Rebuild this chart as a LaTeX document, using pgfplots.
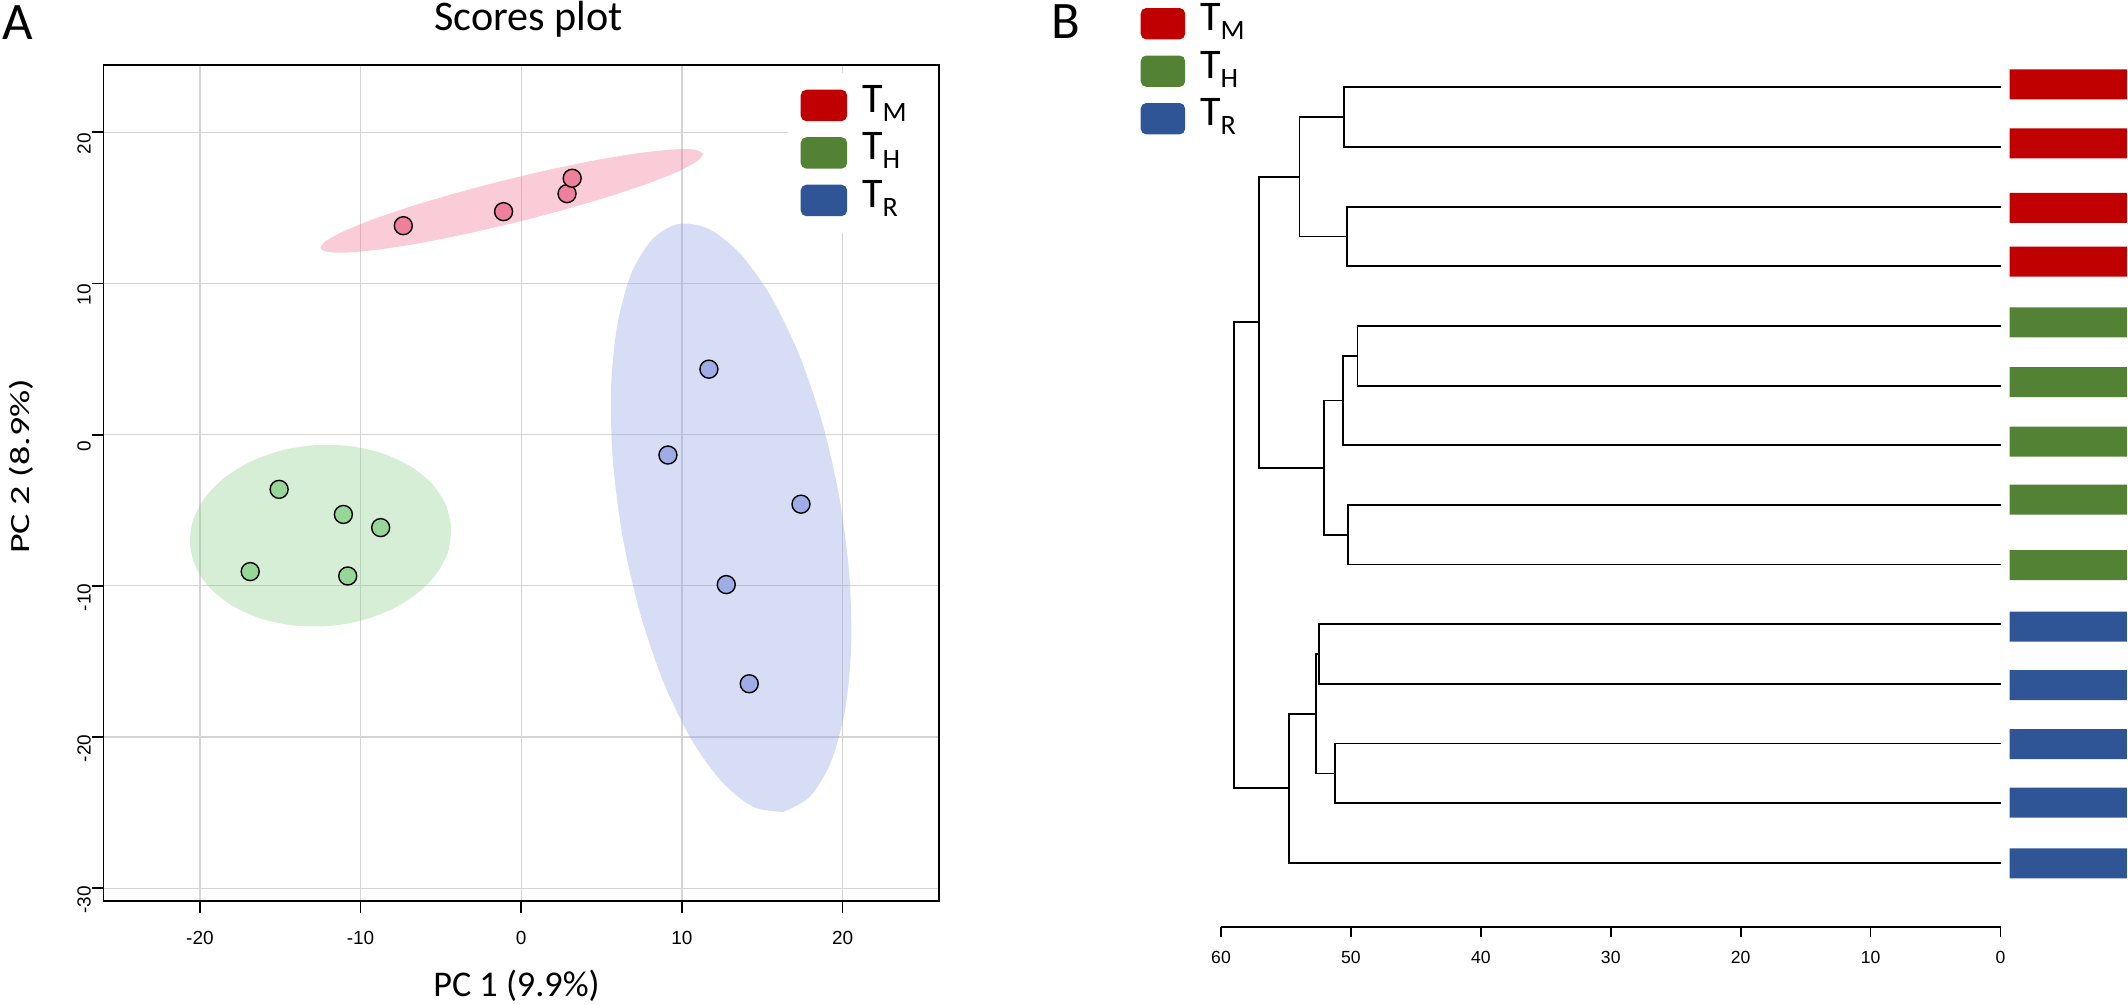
\documentclass[border=0pt]{standalone}
\usepackage{fontspec}
\setmainfont{Carlito}
\newfontfamily\arialfont{Liberation Sans}
\usepackage{pgfplots}
\pgfplotsset{compat=1.18}

\definecolor{tmred}{HTML}{C00000}
\definecolor{thgreen}{HTML}{548235}
\definecolor{trblue}{HTML}{2F5597}
\definecolor{ptred}{RGB}{238,128,155}
\definecolor{ptgreen}{RGB}{150,214,150}
\definecolor{ptblue}{RGB}{160,172,230}
\definecolor{elred}{RGB}{240,110,140}
\definecolor{elgreen}{RGB}{138,206,138}
\definecolor{elblue}{RGB}{141,158,224}
\definecolor{gridgray}{RGB}{212,212,212}

\newcommand\tickfontA{\arialfont\fontsize{5.4}{6}\selectfont}
\newcommand\tickfontB{\arialfont\fontsize{5.0}{6}\selectfont}
\newcommand\sub[1]{\raisebox{-0.9mm}{\fontsize{8}{8}\selectfont #1}}
\newcommand\entry[1]{\makebox[6.3mm][l]{\rule[-1.5mm]{0pt}{4.4mm}T\sub{#1}}}

% rounded bar for the dendrogram leaves
\pgfdeclareplotmark{rbar}{%
  \pgfsetcornersarced{\pgfpoint{0.5mm}{0.5mm}}%
  \pgfpathmoveto{\pgfpoint{-5.87mm}{0mm}}%
  \pgfpathlineto{\pgfpoint{-5.87mm}{1.5mm}}%
  \pgfpathlineto{\pgfpoint{5.87mm}{1.5mm}}%
  \pgfpathlineto{\pgfpoint{5.87mm}{-1.5mm}}%
  \pgfpathlineto{\pgfpoint{-5.87mm}{-1.5mm}}%
  \pgfpathclose
  \pgfusepathqfill}

\pgfplotsset{dend/.style={black, line width=0.5pt, mark=none, forget plot}}

\begin{document}
\begin{tikzpicture}
\useasboundingbox (0,0) rectangle (212.8mm,100.4mm);

\node[anchor=base west, inner sep=0pt, font=\fontsize{15}{15}\selectfont] at (0.2mm,96.4mm) {A};
\node[anchor=base west, inner sep=0pt, font=\fontsize{15}{15}\selectfont] at (105.1mm,96.57mm) {B};

% ---------------- A: scores plot ----------------
\begin{axis}[
  at={(10.35mm,10.3mm)}, anchor=south west,
  scale only axis, width=83.55mm, height=83.6mm,
  xmin=-26, xmax=26, ymin=-30.85, ymax=24.45,
  xtick={-20,-10,0,10,20}, xticklabels={-20,-10,0,10,20},
  ytick={-30,-20,-10,0,10,20}, yticklabels={-30,-20,-10,0,10,20},
  tick pos=left, tick align=outside, major tick length=1.2mm,
  grid=major, major grid style={gridgray, line width=0.35pt},
  axis line style={black, line width=0.5pt},
  every tick/.style={black, line width=0.5pt},
  ticklabel style={font=\tickfontA, inner sep=0pt},
  xticklabel style={anchor=north, yshift=-1.8mm},
  yticklabel style={rotate=90, anchor=south, xshift=-1.15mm},
  every axis title shift=0pt,
  title={Scores plot},
  title style={font=\fontsize{12}{14}\selectfont, at={(axis description cs:0.5087,1.041)}, anchor=base, inner sep=0pt},
  xlabel={PC 1 (9.9\%)},
  xlabel style={font=\fontsize{10.3}{12}\selectfont, at={(axis description cs:0.4943,-0.1148)}, anchor=base, inner sep=0pt},
  ylabel={\scalebox{1.37}[1]{PC 2 (8.9\%)}},
  ylabel style={font=\fontsize{7.9}{9}\selectfont, at={(axis description cs:-0.0888,0.52)}, anchor=base, inner sep=0pt},
  legend cell align=left,
  legend style={at={(0.8181,0.9916)}, anchor=north west, draw=none, fill=white,
    inner xsep=1.3mm, inner ysep=1.07mm, row sep=0.35mm,
    nodes={inner sep=0pt, text depth=}, font=\fontsize{12}{12}\selectfont},
]
% confidence ellipses
\addplot[fill=elred, fill opacity=0.35, draw=none, smooth, forget plot] coordinates {
  (11.32,18.59) (10.99,18.12) (9.88,17.47) (8.06,16.68) (5.65,15.81) (2.81,14.92)
  (-0.26,14.06) (-3.35,13.30) (-6.25,12.68) (-8.77,12.26) (-10.73,12.05) (-11.99,12.08)
  (-12.49,12.33) (-12.16,12.80) (-11.05,13.45) (-9.23,14.24) (-6.82,15.11) (-3.98,16.00)
  (-0.91,16.86) (2.18,17.62) (5.08,18.24) (7.60,18.66) (9.56,18.87) (10.82,18.85) (11.32,18.59)};
\addplot[fill=elgreen, fill opacity=0.35, draw=none, smooth, forget plot] coordinates {
  (-4.35,-6.08) (-4.52,-7.65) (-5.24,-9.15) (-6.45,-10.49) (-8.07,-11.56) (-10.00,-12.31)
  (-12.09,-12.67) (-14.21,-12.62) (-16.21,-12.17) (-17.95,-11.34) (-19.33,-10.20) (-20.23,-8.82)
  (-20.61,-7.29) (-20.44,-5.72) (-19.72,-4.22) (-18.51,-2.88) (-16.89,-1.81) (-14.97,-1.06)
  (-12.87,-0.70) (-10.76,-0.75) (-8.75,-1.20) (-7.01,-2.03) (-5.63,-3.17) (-4.73,-4.55) (-4.35,-6.08)};
\addplot[fill=elblue, fill opacity=0.35, draw=none, smooth, forget plot] coordinates {
  (16.31,-24.96) (17.94,-23.97) (19.25,-21.71) (20.13,-18.35) (20.53,-14.13) (20.42,-9.31)
  (19.81,-4.23) (18.74,0.76) (17.28,5.32) (15.53,9.15) (13.62,11.97) (11.67,13.61)
  (9.81,13.94) (8.18,12.95) (6.87,10.70) (5.99,7.34) (5.59,3.12) (5.70,-1.70)
  (6.31,-6.78) (7.39,-11.77) (8.84,-16.34) (10.59,-20.16) (12.50,-22.98) (14.45,-24.63) (16.31,-24.96)};
% scores
\addplot[only marks, mark=*, mark size=0.9mm, mark options={fill=ptred, draw=black, line width=0.4pt}, forget plot]
  coordinates {(-7.34,13.82) (-1.10,14.75) (2.85,15.94) (3.17,16.96)};
\addplot[only marks, mark=*, mark size=0.9mm, mark options={fill=ptgreen, draw=black, line width=0.4pt}, forget plot]
  coordinates {(-15.07,-3.62) (-11.07,-5.28) (-8.75,-6.15) (-16.87,-9.06) (-10.80,-9.35)};
\addplot[only marks, mark=*, mark size=0.9mm, mark options={fill=ptblue, draw=black, line width=0.4pt}, forget plot]
  coordinates {(11.68,4.33) (9.13,-1.35) (17.41,-4.60) (12.76,-9.92) (14.19,-16.48)};
\addlegendimage{legend image code/.code={\fill[tmred, rounded corners=0.5mm] (0mm,-1.5mm) rectangle (4.5mm,1.5mm); \path (6mm,0mm);}}
\addlegendentry{\entry{M}}
\addlegendimage{legend image code/.code={\fill[thgreen, rounded corners=0.5mm] (0mm,-1.5mm) rectangle (4.5mm,1.5mm); \path (6mm,0mm);}}
\addlegendentry{\entry{H}}
\addlegendimage{legend image code/.code={\fill[trblue, rounded corners=0.5mm] (0mm,-1.5mm) rectangle (4.5mm,1.5mm); \path (6mm,0mm);}}
\addlegendentry{\entry{R}}
\end{axis}

% ---------------- B: dendrogram ----------------
\begin{axis}[
  at={(122.1mm,7.73mm)}, anchor=south west,
  scale only axis, width=77.95mm, height=86.2mm,
  xmin=0, xmax=60, x dir=reverse, ymin=-0.07, ymax=14.38,
  axis x line=bottom, axis y line=none,
  axis line style={-, black, line width=0.5pt},
  xtick={0,10,20,30,40,50,60}, xticklabels={0,10,20,30,40,50,60},
  ytick=\empty,
  tick align=outside, major tick length=1mm,
  every tick/.style={black, line width=0.5pt},
  xticklabel style={font=\tickfontB, inner sep=0pt, anchor=north, yshift=-1.4mm},
  clip=false,
  legend cell align=left,
  legend style={at={(-0.1039,1.0739)}, anchor=north west, draw=none, fill=none,
    inner xsep=0pt, inner ysep=0pt, row sep=0.35mm,
    nodes={inner sep=0pt, text depth=}, font=\fontsize{12}{12}\selectfont},
]
% red cluster
\addplot[dend] coordinates {(0,14) (50.55,14) (50.55,13) (0,13)};
\addplot[dend] coordinates {(0,12) (50.3,12) (50.3,11) (0,11)};
\addplot[dend] coordinates {(50.55,13.5) (53.95,13.5) (53.95,11.5) (50.3,11.5)};
% green cluster
\addplot[dend] coordinates {(0,10) (49.5,10) (49.5,9) (0,9)};
\addplot[dend] coordinates {(49.5,9.5) (50.6,9.5) (50.6,8) (0,8)};
\addplot[dend] coordinates {(0,7) (50.22,7) (50.22,6) (0,6)};
\addplot[dend] coordinates {(50.6,8.75) (52.1,8.75) (52.1,6.5) (50.22,6.5)};
\addplot[dend] coordinates {(53.95,12.5) (57.1,12.5) (57.1,7.625) (52.1,7.625)};
% blue cluster
\addplot[dend] coordinates {(0,5) (52.45,5) (52.45,4) (0,4)};
\addplot[dend] coordinates {(0,3) (51.2,3) (51.2,2) (0,2)};
\addplot[dend] coordinates {(52.45,4.5) (52.7,4.5) (52.7,2.5) (51.2,2.5)};
\addplot[dend] coordinates {(52.7,3.5) (54.77,3.5) (54.77,1) (0,1)};
% root
\addplot[dend] coordinates {(57.1,10.0625) (59.0,10.0625) (59.0,2.25) (54.77,2.25)};
% group bars
\addplot[only marks, mark=rbar, mark options={fill=tmred}, forget plot]
  coordinates {(-5.215,14.05) (-5.215,13.06) (-5.215,11.98) (-5.215,11.08)};
\addplot[only marks, mark=rbar, mark options={fill=thgreen}, forget plot]
  coordinates {(-5.215,10.06) (-5.215,9.06) (-5.215,8.06) (-5.215,7.09) (-5.215,5.99)};
\addplot[only marks, mark=rbar, mark options={fill=trblue}, forget plot]
  coordinates {(-5.215,4.96) (-5.215,3.98) (-5.215,2.99) (-5.215,2.01) (-5.215,0.99)};
\addlegendimage{legend image code/.code={\fill[tmred, rounded corners=0.5mm] (0mm,-1.5mm) rectangle (4.3mm,1.5mm); \path (5.8mm,0mm);}}
\addlegendentry{\entry{M}}
\addlegendimage{legend image code/.code={\fill[thgreen, rounded corners=0.5mm] (0mm,-1.5mm) rectangle (4.3mm,1.5mm); \path (5.8mm,0mm);}}
\addlegendentry{\entry{H}}
\addlegendimage{legend image code/.code={\fill[trblue, rounded corners=0.5mm] (0mm,-1.5mm) rectangle (4.3mm,1.5mm); \path (5.8mm,0mm);}}
\addlegendentry{\entry{R}}
\end{axis}
\end{tikzpicture}
\end{document}
